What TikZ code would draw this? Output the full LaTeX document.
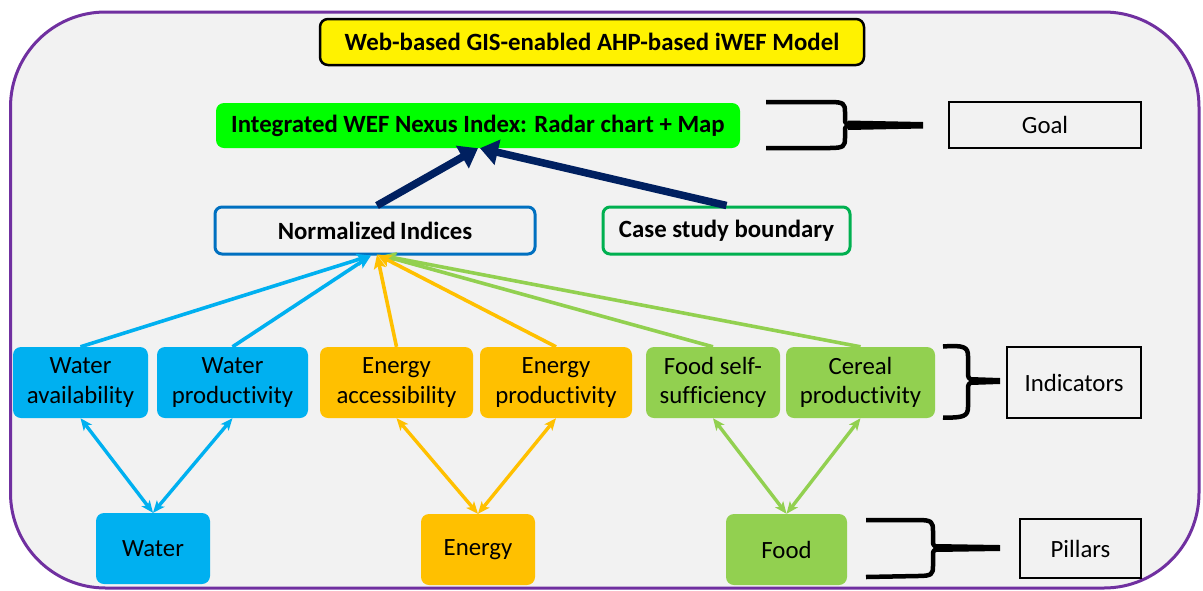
\documentclass[tikz,border=0pt]{standalone}
\usepackage{fontspec}
\setmainfont{Carlito}[Ligatures=NoCommon]
\usetikzlibrary{arrows.meta}
\definecolor{frameviolet}{HTML}{7030A0}
\definecolor{panelgray}{HTML}{F2F2F2}
\definecolor{waterblue}{HTML}{00B0F0}
\definecolor{energyorange}{HTML}{FFC000}
\definecolor{foodgreen}{HTML}{92D050}
\definecolor{indexblue}{HTML}{0070C0}
\definecolor{casegreen}{HTML}{00B050}
\definecolor{brightgreen}{HTML}{00FF00}
\definecolor{navy}{HTML}{002060}
\begin{document}
\begin{tikzpicture}[x=1pt,y=-1pt,
  every node/.style={inner sep=0pt, align=center, font=\fontsize{24.8}{29.5}\selectfont},
  boldtext/.style={font=\fontsize{24.8}{29.5}\selectfont\bfseries},
  box/.style={rounded corners=8pt, minimum height=#1},
  box/.default=71pt,
  waterbox/.style={box, fill=waterblue},
  energybox/.style={box, fill=energyorange},
  foodbox/.style={box, fill=foodgreen},
  levelbox/.style={draw=black, line width=2.5pt},
  feed/.style={line width=3.6pt, -{Stealth[length=14pt,width=12pt,inset=3pt]}},
  link/.style={line width=3.4pt, {Stealth[length=12pt,width=10pt,inset=3pt]}-{Stealth[length=12pt,width=10pt,inset=3pt]}},
  upward/.style={draw=navy, line width=7.5pt, -{Triangle[length=18pt,width=25pt]}},
  brace/.style={line width=4.5pt, line cap=butt, line join=round}
]
\useasboundingbox (0,0) rectangle (1203,590);

% outer panel
\draw[fill=panelgray, draw=frameviolet, line width=3pt, rounded corners=95pt]
  (10.5,12) rectangle (1199,588);

% title and goal
\node[draw=black, line width=2.5pt, fill=yellow, rounded corners=8pt,
  minimum width=544pt, minimum height=46pt, boldtext]
  (title) at (592,42) {Web-based GIS-enabled AHP-based iWEF Model};
\node[fill=brightgreen, rounded corners=8pt, minimum width=524pt, minimum height=45pt, boldtext]
  (goal) at (478,125.5) {Integrated WEF Nexus Index: Radar chart + Map};

% second level
\node[draw=indexblue, line width=3pt, rounded corners=7pt, minimum width=320pt, minimum height=47pt, boldtext]
  (norm) at (375,230.5) {Normalized\,Indices};
\node[draw=casegreen, line width=3pt, rounded corners=7pt, minimum width=247pt, minimum height=47pt, boldtext]
  (case) at (726.5,230.5) {Case study boundary};

% indicators
\node[waterbox, minimum width=135pt] (wa) at (80.5,382.5) {Water\\availability};
\node[waterbox, minimum width=151pt] (wp) at (232.5,382.5) {Water\\productivity};
\node[energybox, minimum width=153pt] (ea) at (396.5,382.5) {Energy\\accessibility};
\node[energybox, minimum width=152pt] (ep) at (556,382.5) {Energy\\productivity};
\node[foodbox, minimum width=134pt] (fs) at (713,382.5) {Food self-\\sufficiency};
\node[foodbox, minimum width=149pt] (cp) at (860.5,382.5) {Cereal\\productivity};

% pillars
\node[waterbox=59pt, minimum width=114pt] (water) at (153,548.5) {Water};
\node[energybox=61pt, minimum width=114pt] (energy) at (478,549.5) {Energy};
\node[foodbox=61pt, minimum width=121pt] (food) at (786.5,549.5) {Food};

% level labels
\node[levelbox, minimum width=192pt, minimum height=46pt] (lgoal) at (1045,125) {Goal};
\node[levelbox, minimum width=134pt, minimum height=71pt] (lind) at (1074,382.5) {Indicators};
\node[levelbox, minimum width=121pt, minimum height=59pt] (lpil) at (1080.5,548.5) {Pillars};

% aggregation arrows to the goal
\draw[upward] ([xshift=2pt]norm.north) -- (goal.south);
\draw[upward] (case.north) -- ([xshift=2pt]goal.south);

% indicators feeding the normalized indices
\draw[feed, waterblue] (wa.north) -- ([xshift=-4pt]norm.south);
\draw[feed, waterblue] (wp.north) -- ([xshift=-4pt]norm.south);
\draw[feed, foodgreen] (cp.north) -- ([xshift=7pt]norm.south);
\draw[feed, foodgreen] (fs.north) -- ([xshift=7pt]norm.south);
\draw[feed, energyorange] (ep.north) -- ([xshift=2pt,yshift=1pt]norm.south);
\draw[feed, energyorange] (ea.north) -- ([xshift=2pt,yshift=1pt]norm.south);

% pillar-indicator links
\draw[link, waterblue] (wa.south) -- (water.north);
\draw[link, waterblue] (wp.south) -- (water.north);
\draw[link, energyorange] (ea.south) -- (energy.north);
\draw[link, energyorange] (ep.south) -- (energy.north);
\draw[link, foodgreen] (fs.south) -- (food.north);
\draw[link, foodgreen] (cp.south) -- (food.north);

% braces pointing to the level labels
\draw[brace] (766,102) -- (830,102) .. controls (844,102) and (845,104) .. (845,112)
  -- (845,119) .. controls (845,123) .. (850,125) .. controls (845,127) .. (845,131)
  -- (845,138) .. controls (845,146) and (844,148) .. (830,148) -- (766,148);
\fill (848,120.5) -- (923,122) -- (923,128.5) -- (848,130) -- cycle;

\draw[brace] (943,346.5) .. controls (964,345) and (968,347) .. (968,356)
  -- (968,372) .. controls (968,378) .. (974,381) .. controls (968,384) .. (968,390)
  -- (968,407) .. controls (968,416) and (964,418) .. (943,417.5);
\fill (971,377) -- (1000,378) -- (1000,384) -- (971,385) -- cycle;

\draw[brace] (866,520) -- (918,520) .. controls (932,520) and (933,522) .. (933,531)
  -- (933,541) .. controls (933,545) .. (938,548) .. controls (933,551) .. (933,555)
  -- (933,566) .. controls (933,574) and (932,576) .. (918,576) -- (866,577);
\fill (936,544) -- (1000,545) -- (1000,551) -- (936,552) -- cycle;
\end{tikzpicture}
\end{document}
